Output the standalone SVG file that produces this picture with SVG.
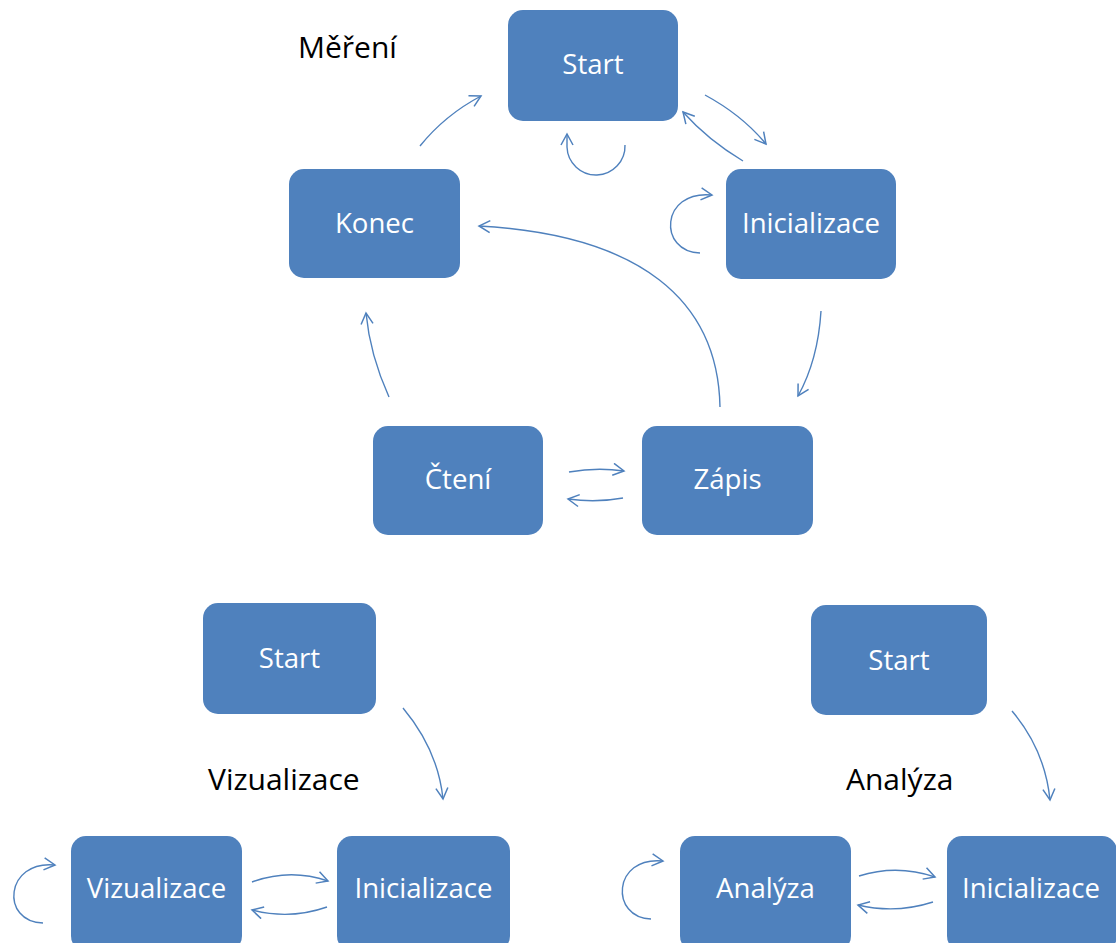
<svg xmlns="http://www.w3.org/2000/svg" width="1116" height="943" viewBox="0 0 1116 943">
<style>
.box{fill:#4F81BD;}
.lbl{font-family:"Open Sans","Noto Sans",sans-serif;font-size:27.6px;fill:#ffffff;text-anchor:middle;}
.ttl{font-family:"Open Sans","Noto Sans",sans-serif;font-size:30px;fill:#000000;}
.c{fill:none;stroke:#4F81BD;stroke-width:1.4;marker-end:url(#ah);}
</style>
<defs>
<marker id="ah" markerWidth="14" markerHeight="14" refX="12" refY="7" orient="auto" markerUnits="userSpaceOnUse" viewBox="0 0 14 14">
<path d="M1,1 L12,7 L1,13" fill="none" stroke="#4F81BD" stroke-width="1.5"/>
</marker>
</defs>
<rect width="1116" height="943" fill="#ffffff"/>

<g id="titles">
<text class="ttl" x="298" y="58">Měření</text>
<text class="ttl" x="208" y="790">Vizualizace</text>
<text class="ttl" x="846" y="790">Analýza</text>
</g>

<g id="m-start"><rect class="box" x="508" y="10" width="170" height="111" rx="15"/><text class="lbl" x="593" y="74">Start</text></g>
<g id="m-konec"><rect class="box" x="289" y="169" width="171" height="109" rx="15"/><text class="lbl" x="374.5" y="233">Konec</text></g>
<g id="m-init"><rect class="box" x="726" y="169" width="170" height="110" rx="15"/><text class="lbl" x="811" y="233">Inicializace</text></g>
<g id="m-cteni"><rect class="box" x="373" y="426" width="170" height="109" rx="15"/><text class="lbl" x="458" y="489">Čtení</text></g>
<g id="m-zapis"><rect class="box" x="642" y="426" width="171" height="109" rx="15"/><text class="lbl" x="727.5" y="489">Zápis</text></g>

<g id="v-start"><rect class="box" x="203" y="603" width="173" height="111" rx="15"/><text class="lbl" x="289.5" y="668">Start</text></g>
<g id="v-viz"><rect class="box" x="71" y="836" width="171" height="115" rx="15"/><text class="lbl" x="156.5" y="898">Vizualizace</text></g>
<g id="v-init"><rect class="box" x="337" y="836" width="173" height="115" rx="15"/><text class="lbl" x="423.5" y="898">Inicializace</text></g>

<g id="a-start"><rect class="box" x="811" y="605" width="176" height="110" rx="15"/><text class="lbl" x="899" y="670">Start</text></g>
<g id="a-anal"><rect class="box" x="680" y="836" width="171" height="115" rx="15"/><text class="lbl" x="765.5" y="898">Analýza</text></g>
<g id="a-init"><rect class="box" x="947" y="836" width="170" height="115" rx="15"/><text class="lbl" x="1031" y="898">Inicializace</text></g>

<g id="connectors">
<path class="c" d="M420,146 Q445,115 481,96"/>
<path class="c" d="M625,145 A29,29 0 0 1 567,147 L567,134"/>
<path class="c" d="M705,95 Q742,115 766,144"/>
<path class="c" d="M743,161 Q708,140 683,112"/>
<path class="c" d="M700,253 C658,252 660,190 712,195"/>
<path class="c" d="M821,311 Q818,360 798,396"/>
<path class="c" d="M720,407 C718,300 640,235 479,226"/>
<path class="c" d="M389,397 Q370,355 366,313"/>
<path class="c" d="M569,472 Q597,467 624,471"/>
<path class="c" d="M623,498 Q596,503 568,499"/>
<path class="c" d="M403,708 Q438,750 443,799"/>
<path class="c" d="M252,882 Q290,868 328,881"/>
<path class="c" d="M327,907 Q290,920 252,910"/>
<path class="c" d="M43,923 C0,922 5,860 55,865"/>
<path class="c" d="M1012,711 Q1045,750 1050,800"/>
<path class="c" d="M859,876 Q897,864 935,877"/>
<path class="c" d="M933,902 Q896,914 858,905"/>
<path class="c" d="M651,919 C610,918 612,856 663,861"/>
</g>
</svg>
